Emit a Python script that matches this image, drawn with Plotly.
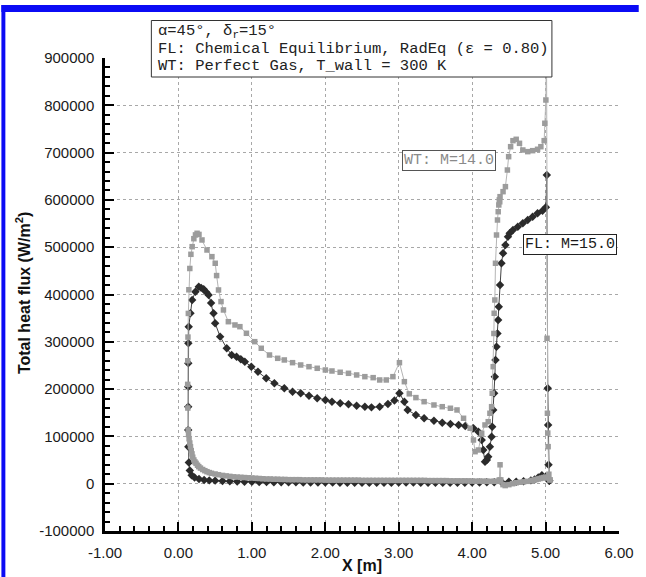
import plotly.graph_objects as go

# ---------------- data ----------------
# FL: M=15.0 (flight, chemical equilibrium) -- leeward branch (aft -> nose)
fl_lee_x = [5.05, 5.00, 4.95, 4.90, 4.85, 4.80, 4.70, 4.60, 4.50, 4.40, 4.30, 4.20, 4.10, 4.00,
            3.90, 3.80, 3.70, 3.60, 3.50, 3.40, 3.30, 3.20, 3.10, 3.00, 2.90, 2.80, 2.70, 2.60,
            2.50, 2.40, 2.30, 2.20, 2.10, 2.00, 1.90, 1.80, 1.70, 1.60, 1.50, 1.40, 1.30, 1.20,
            1.10, 1.00, 0.90, 0.80, 0.70, 0.60, 0.50, 0.42, 0.35, 0.28, 0.22, 0.18, 0.155, 0.142, 0.135]
fl_lee_y = [6000, 14000, 18000, 13000, 9000, 7000, 5000, 4000, 4000, 3500, 3000, 3000, 2500, 2500,
            2000, 2000, 2000, 2000, 2000, 2000, 2000, 2500, 2500, 2500, 2000, 2000, 2000, 2000,
            2000, 2000, 2000, 2000, 2500, 2500, 2500, 2500, 2500, 3000, 3000, 3000, 3000, 3500,
            3500, 4000, 4000, 4500, 5000, 5500, 6500, 7000, 8000, 10000, 13000, 18000, 28000, 45000, 78000]
# nose rise
fl_nose_x = [0.133, 0.133, 0.133, 0.134, 0.135, 0.14, 0.164, 0.187, 0.232, 0.277]
fl_nose_y = [113600, 162800, 205100, 254600, 296900, 332000, 360300, 388400, 406000, 416500]
# windward branch (nose -> aft)
fl_wind_x = [0.31, 0.344, 0.38, 0.411, 0.445, 0.478, 0.50, 0.568, 0.658, 0.725, 0.792, 0.85, 0.904, 0.993,
             1.083, 1.195, 1.307, 1.442, 1.554, 1.665, 1.778, 1.89, 2.001, 2.091, 2.203, 2.316, 2.427, 2.539,
             2.629, 2.741, 2.853, 2.942, 3.01, 3.077, 3.122, 3.234, 3.346, 3.48, 3.593, 3.704, 3.816, 3.906,
             4.018, 4.085, 4.13, 4.152, 4.175, 4.20, 4.219, 4.242, 4.265, 4.273, 4.287, 4.30, 4.309, 4.318,
             4.332, 4.345, 4.354, 4.363, 4.38, 4.399, 4.421, 4.453, 4.488, 4.511, 4.556, 4.622, 4.69, 4.757,
             4.824, 4.891, 4.958, 5.004]
fl_wind_y = [414000, 411000, 405000, 399000, 382000, 360300, 339100, 310900, 286300, 272100, 268600, 263000, 258000, 247400,
             236800, 222900, 212300, 201700, 194600, 191200, 186100, 180600, 177000, 173400, 170000, 167900, 164900, 162800,
             161400, 162800, 168600, 176000, 191200, 173400, 155900, 145300, 138300, 133300, 129000, 126300, 124200, 122000,
             117200, 110000, 92400, 71300, 46600, 50000, 57000, 78300, 99400, 120500, 155900, 191200, 226300, 261600,
             289600, 317600, 346100, 374300, 420000, 466000, 487100, 504700, 522300, 529400, 536400, 543400, 550500, 557500,
             564500, 571700, 577200, 584400]
# base spike
fl_end_x = [5.017, 5.03, 5.035, 5.04, 5.05]
fl_end_y = [652600, 201700, 124200, 40000, 6000]

# WT: M=14.0 (wind tunnel, perfect gas) -- leeward branch (aft -> nose)
wt_lee_x = [5.06, 5.03, 5.00, 4.975, 4.95, 4.925, 4.90, 4.875, 4.85, 4.825, 4.80, 4.75, 4.70, 4.65,
            4.60, 4.55, 4.50, 4.45, 4.42, 4.39, 4.38, 4.37, 4.35,
            4.30, 4.25, 4.20, 4.15, 4.10, 4.05, 4.00, 3.95, 3.90, 3.85, 3.80, 3.75, 3.70, 3.65,
            3.60, 3.55, 3.50, 3.45, 3.40, 3.35, 3.30, 3.25, 3.20, 3.15, 3.10, 3.05, 3.00, 2.95,
            2.90, 2.85, 2.80, 2.75, 2.70, 2.65, 2.60, 2.55, 2.50, 2.45, 2.40, 2.35, 2.30, 2.25,
            2.20, 2.15, 2.10, 2.05, 2.00, 1.95, 1.90, 1.85, 1.80, 1.75, 1.70, 1.65, 1.60, 1.55,
            1.50, 1.45, 1.40, 1.35, 1.30, 1.25, 1.20, 1.15, 1.10, 1.05, 1.00,
            0.95, 0.90, 0.85, 0.80, 0.75, 0.70, 0.65, 0.60, 0.546, 0.50, 0.45, 0.42, 0.389, 0.36,
            0.33, 0.30, 0.277, 0.26, 0.24, 0.225, 0.21, 0.195, 0.185, 0.175, 0.164, 0.155, 0.145, 0.138, 0.133]
wt_lee_y = [8000, 12000, 14000, 13000, 12000, 11000, 10000, 9000, 8000, 7000, 6000, 5000, 4000, 3000,
            2000, 0, -2000, -4000, -2000, 8000, 40000, 8000, 5000,
            5000, 5000, 5000, 5500, 5500, 5500, 5500, 6000, 6000, 6000, 6000, 6000, 6000, 6500,
            6500, 6500, 6500, 6500, 6500, 7000, 7000, 7000, 7000, 7000, 7000, 7000, 7000, 7000,
            7000, 7000, 7000, 7000, 7000, 7000, 7000, 7000, 7000, 7500, 7500, 7500, 7500, 7500,
            7500, 7500, 7500, 7500, 7500, 8000, 8000, 8000, 8000, 8000, 8000, 8500, 8500, 8500,
            8500, 9000, 9000, 9500, 9500, 10000, 10000, 10500, 11000, 11500, 12000,
            12500, 13000, 13500, 14000, 14500, 15500, 16500, 17500, 19000, 20500, 22000, 23500, 25400, 27500,
            30000, 33000, 36000, 39000, 43000, 46000, 50200, 56000, 63000, 70000, 78300, 86000, 95000, 104000, 113600]
wt_nose_x = [0.128, 0.126, 0.127, 0.13, 0.135, 0.142, 0.155, 0.17, 0.187, 0.21, 0.232, 0.254]
wt_nose_y = [160000, 210000, 260000, 310000, 360000, 410000, 455000, 485000, 501100, 518000, 526000, 529400]
wt_wind_x = [0.28, 0.321, 0.389, 0.456, 0.501, 0.52, 0.546, 0.58, 0.613, 0.68, 0.77, 0.837, 0.926, 1.039,
             1.128, 1.24, 1.352, 1.442, 1.554, 1.665, 1.778, 1.89, 2.001, 2.091, 2.203, 2.316, 2.427, 2.539,
             2.652, 2.741, 2.831, 2.921, 3.01, 3.077, 3.144, 3.234, 3.346, 3.48, 3.593, 3.704, 3.794, 3.883,
             3.973, 4.018, 4.04, 4.085, 4.13, 4.175, 4.219, 4.242, 4.265, 4.273, 4.287, 4.296, 4.30, 4.309,
             4.318, 4.332, 4.345, 4.355, 4.363, 4.37, 4.376, 4.38, 4.421, 4.453, 4.48, 4.497, 4.524, 4.556,
             4.60, 4.645, 4.69, 4.757, 4.824, 4.891, 4.936, 4.981, 4.99, 5.004]
wt_wind_y = [527000, 515300, 494100, 480000, 466000, 440000, 409600, 385000, 367300, 342500, 335600, 332000, 318000, 300300,
             286300, 272100, 265100, 261600, 255900, 251000, 247400, 244000, 240400, 238300, 235600, 233400, 229900, 226300,
             224200, 219300, 219300, 226300, 255900, 215700, 190000, 182000, 173400, 166400, 162800, 159500, 155900, 138300,
             117200, 92400, 67700, 71300, 106600, 124200, 131100, 148900, 162800, 191200, 247400, 317600, 360300, 388400,
             466000, 525800, 557500, 575000, 589300, 600000, 596000, 606800, 617400, 628000, 663200, 691400, 712500, 725200,
             728100, 719600, 705500, 702000, 704100, 707000, 712500, 725200, 762000, 811200]
wt_end_x = [5.012, 5.02, 5.025, 5.03, 5.035, 5.045, 5.06]
wt_end_y = [960000, 307400, 148900, 107000, 78300, 20000, 8000]

x_ticks = [-1, 0, 1, 2, 3, 4, 5, 6]
y_ticks = [-100000, 0, 100000, 200000, 300000, 400000, 500000, 600000, 700000, 800000, 900000]

fl_x = fl_lee_x + fl_nose_x + fl_wind_x + fl_end_x
fl_y = fl_lee_y + fl_nose_y + fl_wind_y + fl_end_y
wt_x = wt_lee_x + wt_nose_x + wt_wind_x + wt_end_x
wt_y = wt_lee_y + wt_nose_y + wt_wind_y + wt_end_y

# ---------------- layout geometry ----------------
W, H = 646, 577
L, R, T, B = 105, 626, 58, 531  # plot area in pixels


def px(xp):
    return (xp - L) / (R - L)


def py(yp):
    return (B - yp) / (B - T)


fig = go.Figure()
fig.add_trace(go.Scatter(
    x=fl_x, y=fl_y, mode="lines+markers", name="FL: M=15.0",
    line=dict(color="#444444", width=1),
    marker=dict(symbol="diamond", size=6.5, color="#2b2b2b", line=dict(width=0)),
))
fig.add_trace(go.Scatter(
    x=wt_x, y=wt_y, mode="lines+markers", name="WT: M=14.0",
    line=dict(color="#b5b5b5", width=1),
    marker=dict(symbol="square", size=5.5, color="#9c9c9c", line=dict(width=0)),
))

tick_font = dict(family="Liberation Sans, Arial, sans-serif", size=15, color="#1a1a1a")
axis_common = dict(
    showline=True, linecolor="black", linewidth=2.5, mirror=False,
    ticks="inside", ticklen=9, tickwidth=2, tickcolor="black",
    showgrid=True, gridcolor="#a8a8a8", gridwidth=1, griddash="dot",
    zeroline=False, tickfont=tick_font,
)
fig.update_xaxes(range=[-1, 6], tickmode="array", tickvals=x_ticks,
                 ticktext=[f"{v:.2f}" for v in x_ticks],
                 minor=dict(ticks="inside", ticklen=5, tickwidth=1.5, tickcolor="black",
                            dtick=0.2, showgrid=False),
                 ticklabelstandoff=6, **axis_common)
fig.update_yaxes(range=[-100000, 900000], tickmode="array", tickvals=y_ticks,
                 ticktext=[str(v) for v in y_ticks],
                 minor=dict(ticks="inside", ticklen=5, tickwidth=1.5, tickcolor="black",
                            dtick=20000, showgrid=False),
                 ticklabelstandoff=5, **axis_common)

mono = "Liberation Mono, Courier New, monospace"
shapes = [
    # blue frame (top and left)
    dict(type="rect", xref="paper", yref="paper", x0=px(0), x1=px(W), y0=py(12), y1=py(5),
         fillcolor="#0b0bf5", line=dict(width=0), layer="above"),
    dict(type="rect", xref="paper", yref="paper", x0=px(0), x1=px(4), y0=py(H), y1=py(5),
         fillcolor="#0b0bf5", line=dict(width=0), layer="above"),
    # info box
    dict(type="rect", xref="paper", yref="paper", x0=px(152), x1=px(558), y0=py(77), y1=py(20.5),
         fillcolor="white", line=dict(color="#333333", width=1), layer="above"),
]

annotations = [
    dict(xref="paper", yref="paper", x=px(157), y=py(31), xanchor="left", yanchor="middle",
         text="α=45°, δ<sub>r</sub>=15°", showarrow=False, font=dict(family=mono, size=15.5, color="#222")),
    dict(xref="paper", yref="paper", x=px(157), y=py(48.5), xanchor="left", yanchor="middle",
         text="FL: Chemical Equilibrium, RadEq (ε = 0.80)", showarrow=False,
         font=dict(family=mono, size=15.5, color="#222")),
    dict(xref="paper", yref="paper", x=px(157), y=py(66.5), xanchor="left", yanchor="middle",
         text="WT: Perfect Gas, T_wall = 300 K", showarrow=False,
         font=dict(family=mono, size=15.5, color="#222")),
    # series labels
    dict(x=3.68, y=683000, xref="x", yref="y", text="WT: M=14.0", showarrow=False,
         font=dict(family=mono, size=15, color="#8a8a8a"), bgcolor="white",
         bordercolor="#555555", borderwidth=1, borderpad=1),
    dict(x=5.33, y=505000, xref="x", yref="y", text="FL: M=15.0", showarrow=False,
         font=dict(family=mono, size=15, color="#1a1a1a"), bgcolor="white",
         bordercolor="#222222", borderwidth=1, borderpad=1),
    # axis titles
    dict(xref="paper", yref="paper", x=px(365.5), y=py(565), text="<b>X [m]</b>", showarrow=False,
         xanchor="center", yanchor="middle",
         font=dict(family="Liberation Sans, Arial, sans-serif", size=16, color="#111")),
    dict(xref="paper", yref="paper", x=px(22), y=py(293), text="<b>Total heat flux (W/m<sup>2</sup>)</b>",
         showarrow=False, textangle=-90, xanchor="center", yanchor="middle",
         font=dict(family="Liberation Sans, Arial, sans-serif", size=16, color="#111")),
]

fig.update_layout(
    width=W, height=H,
    margin=dict(l=L, r=W - R, t=T, b=H - B, pad=0),
    paper_bgcolor="white", plot_bgcolor="white",
    showlegend=False,
    shapes=shapes, annotations=annotations,
)

fig.write_html("out.html")
